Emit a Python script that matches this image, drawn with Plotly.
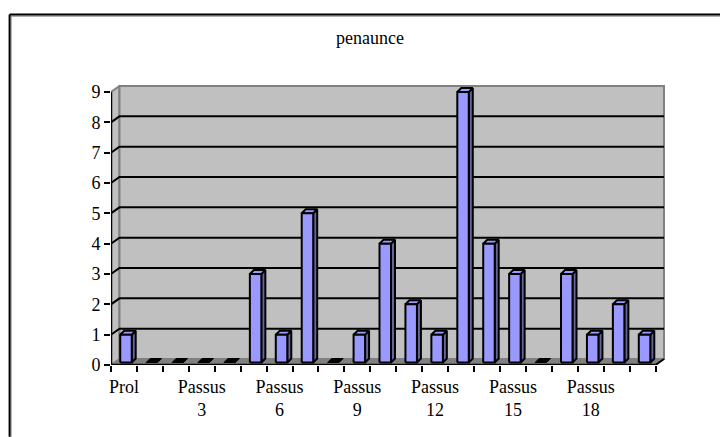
import plotly.graph_objects as go

categories = ["Prol"] + [f"Passus {i}" for i in range(1, 21)]
values = [1, 0, 0, 0, 0, 3, 1, 5, 0, 1, 4, 2, 1, 9, 4, 3, 0, 3, 1, 2, 1]
tick_labels = ["Prol", "Passus<br>3", "Passus<br>6", "Passus<br>9", "Passus<br>12", "Passus<br>15", "Passus<br>18"]
tick_positions = [0, 3, 6, 9, 12, 15, 18]
y_ticks = list(range(10))
title = "penaunce"

PAGE = 8  # default body margin of the written page
W, H = 728 - PAGE, 437 - PAGE
# front axis rectangle in figure pixels
L, R, T, B = 110.5 - PAGE, 655.5 - PAGE, 91.5 - PAGE, 365 - PAGE
WALL_X, WALL_Y = 8.5, 6
PAD = 2
ux = (R - L) / len(values)
uy = (B - T) / 9
dx = lambda px: px / ux
dy = lambda px: px / uy
n = len(values)
x0, x1 = -0.5, n - 0.5
wx, wy = dx(WALL_X), dy(WALL_Y)
FONT = "Liberation Serif"

fig = go.Figure()

def poly(xs, ys, fill, line="black", lw=2):
    fig.add_trace(go.Scatter(x=xs, y=ys, mode="lines", fill="toself", fillcolor=fill,
                             line=dict(color=line, width=lw), cliponaxis=False,
                             hoverinfo="skip", showlegend=False))

def seg(xs, ys, color="black", lw=2):
    fig.add_trace(go.Scatter(x=xs, y=ys, mode="lines", line=dict(color=color, width=lw),
                             cliponaxis=False, hoverinfo="skip", showlegend=False))

# side wall, back wall, floor
poly([x0, x0 + wx, x0 + wx, x0, x0], [0, wy, 9 + wy, 9, 0], "#c0c0c0", "#808080", 2)
poly([x0 + wx, x1 + wx, x1 + wx, x0 + wx, x0 + wx], [wy, wy, 9 + wy, 9 + wy, wy], "#c0c0c0", "#808080", 2)
poly([x0, x1, x1 + wx, x0 + wx, x0], [0, 0, wy, wy, 0], "#808080", "#808080", 1)

# gridlines on the wall
for t in y_ticks[1:9]:
    seg([x0, x0 + wx, x1 + wx], [t, t + wy, t + wy])

# bars
bw, bd_x, bd_y, base_x, base_y = dx(11.5), dx(4), dy(4), dx(2), dy(2.5)
for i, v in enumerate(values):
    xl = i - bw / 2 + base_x
    xr = xl + bw
    y0 = base_y
    y1 = max(v, base_y)
    if v > 0:
        poly([xr, xr + bd_x, xr + bd_x, xr, xr], [y0, y0 + bd_y, y1 + bd_y, y1, y0], "#666699")
        poly([xl, xr, xr + bd_x, xl + bd_x, xl], [y1, y1, y1 + bd_y, y1 + bd_y, y1], "#9999ff")
        poly([xl, xr, xr, xl, xl], [y0, y0, y1, y1, y0], "#9999ff")
    else:
        poly([xl, xr, xr + bd_x, xl + bd_x, xl], [y1, y1, y1 + bd_y, y1 + bd_y, y1], "black", "black", 1)

# front axis lines
seg([x0, x0], [0, 9], lw=2.5)
seg([x0, x1], [0, 0], lw=2.5)
seg([x1, x1 + wx], [0, wy])

fig.update_layout(
    width=W, height=H,
    margin=dict(l=L, r=W - R - WALL_X - PAD, t=T - WALL_Y - PAD, b=H - B, autoexpand=False),
    paper_bgcolor="white", plot_bgcolor="rgba(0,0,0,0)",
    font=dict(family=FONT, color="black", size=18),
    showlegend=False,
    title=dict(text=title, x=(370 - PAGE) / W, xanchor="center", y=1 - (38 - PAGE) / H, yanchor="middle", font=dict(size=18)),
    xaxis=dict(range=[x0, x1 + wx + dx(PAD)], tickmode="array", tickvals=tick_positions, ticktext=tick_labels,
               ticks="", ticklabelstandoff=9, showgrid=False, zeroline=False, showline=False,
               minor=dict(tick0=-0.5, dtick=1, ticks="outside", ticklen=6, tickwidth=2, tickcolor="black", showgrid=False),
               tickfont=dict(size=18)),
    yaxis=dict(range=[0, 9 + wy + dy(PAD)], tickmode="array", tickvals=y_ticks, ticks="outside", ticklen=6, tickwidth=2,
               tickcolor="black", showgrid=False, zeroline=False, showline=False,
               tickfont=dict(size=18)),
)
# frame: open at the right and bottom, as in the reference
fw, fh = W - L - (W - R - WALL_X - PAD), (B - (T - WALL_Y - PAD))
px = lambda p: (p - L) / fw
py = lambda p: (B - p) / fh
frame = [
    (10.5 - PAGE, 15.5 - PAGE, W, 15.5 - PAGE, "#808080", 1), (10.5 - PAGE, 15.5 - PAGE, 10.5 - PAGE, H, "#808080", 1),
    (9 - PAGE, 14 - PAGE, W, 14 - PAGE, "black", 2), (9 - PAGE, 14 - PAGE, 9 - PAGE, H, "black", 2),
]
fig.update_layout(shapes=[dict(type="line", xref="paper", yref="paper", x0=px(a), y0=py(b), x1=px(c), y1=py(d),
                               line=dict(color=col, width=w)) for a, b, c, d, col, w in frame])
fig.write_html("out.html")
